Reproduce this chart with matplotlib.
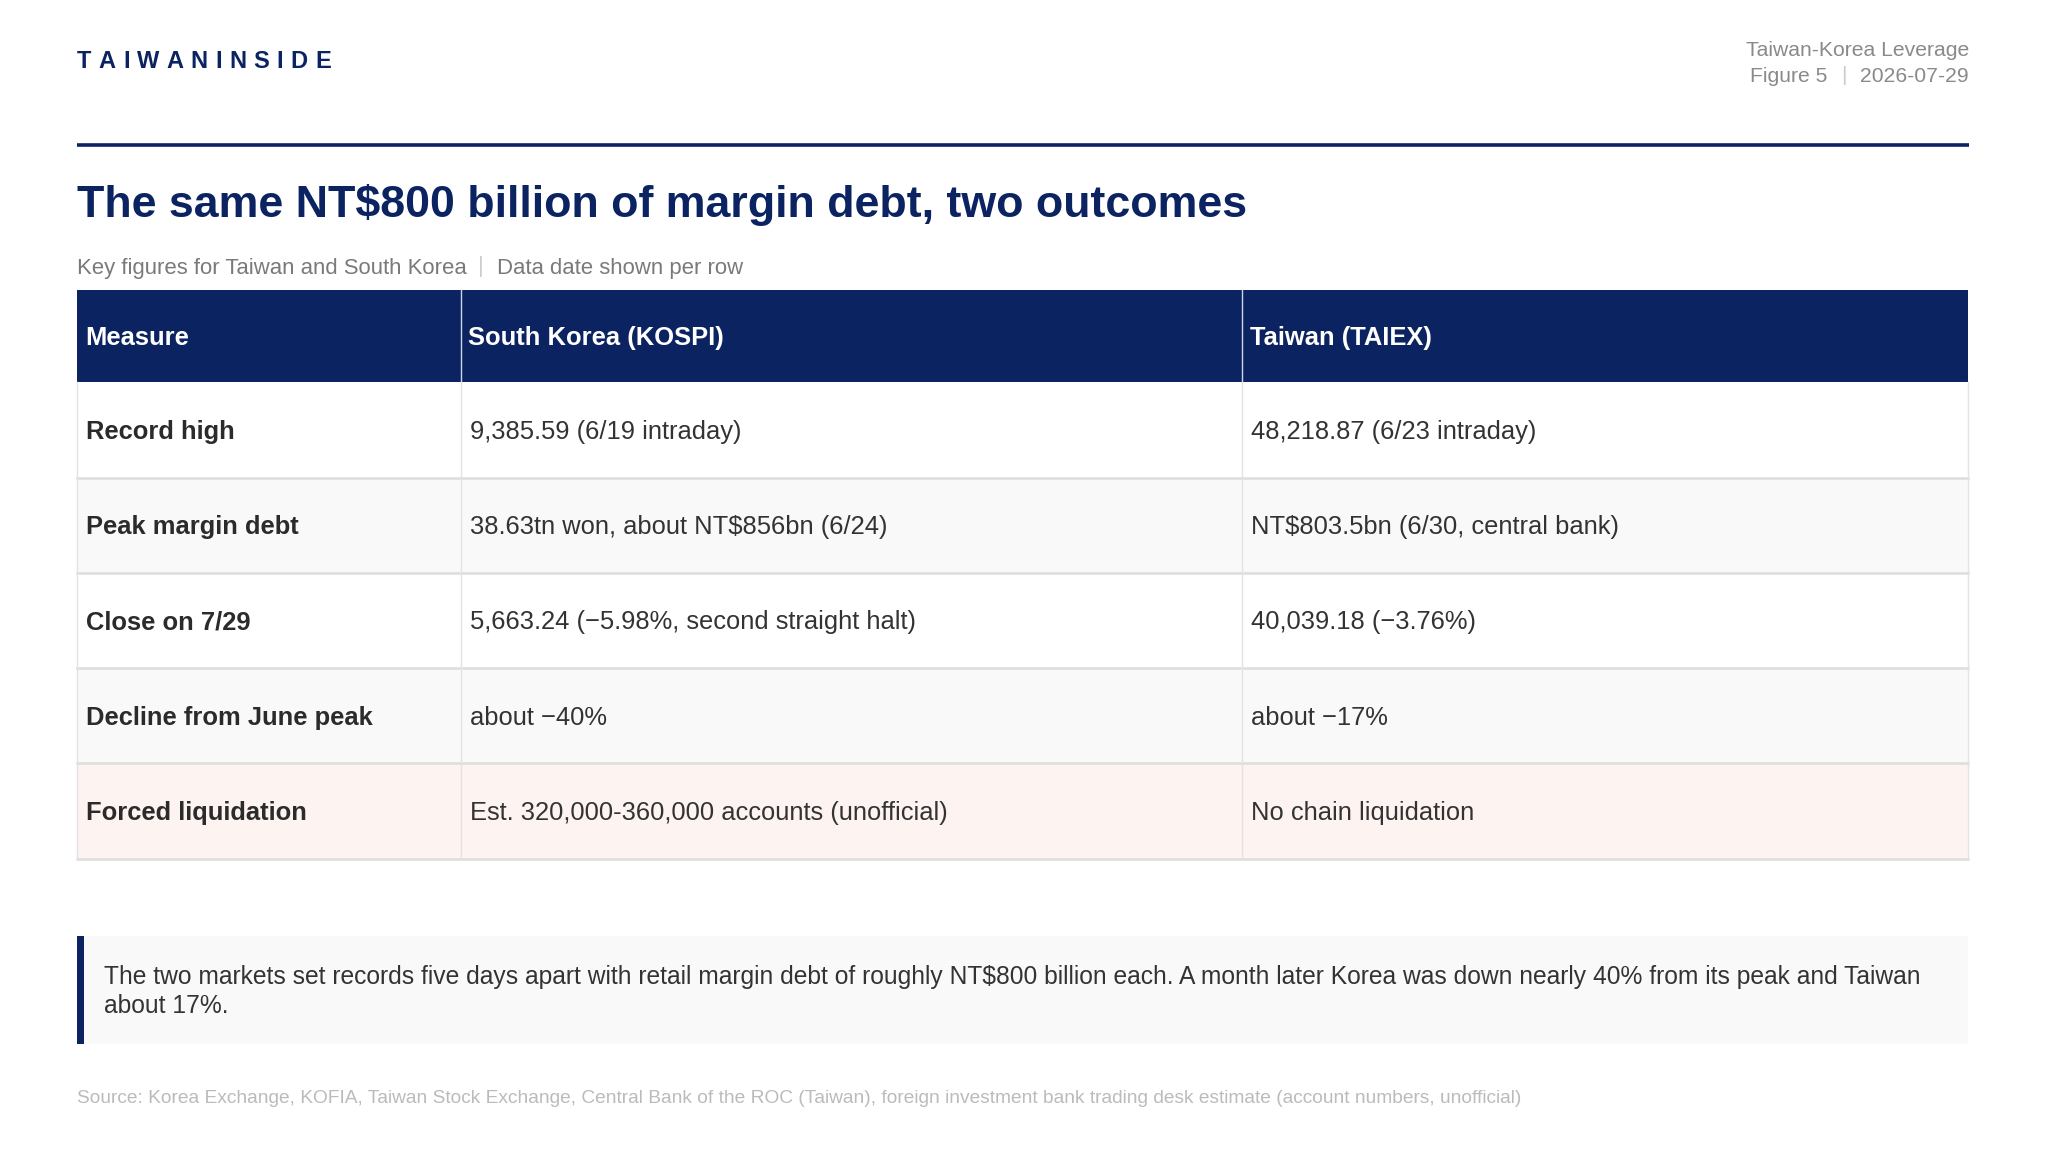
import matplotlib.pyplot as plt
from matplotlib.patches import Rectangle

# table content
columns = ['Measure', 'South Korea (KOSPI)', 'Taiwan (TAIEX)']
measures = ['Record high', 'Peak margin debt', 'Close on 7/29',
            'Decline from June peak', 'Forced liquidation']
korea = ['9,385.59 (6/19 intraday)', '38.63tn won, about NT$856bn (6/24)',
         '5,663.24 (\u22125.98%, second straight halt)', 'about \u221240%',
         'Est. 320,000-360,000 accounts (unofficial)']
taiwan = ['48,218.87 (6/23 intraday)', 'NT$803.5bn (6/30, central bank)',
          '40,039.18 (\u22123.76%)', 'about \u221217%', 'No chain liquidation']
row_bg = ['#ffffff', '#f9f9f9', '#ffffff', '#f9f9f9', '#fdf3f1']

title = 'The same NT$800 billion of margin debt, two outcomes'
subtitle = ['Key figures for Taiwan and South Korea', 'Data date shown per row']
note = ['The two markets set records five days apart with retail margin debt of roughly NT$800 billion each. '
        'A month later Korea was down nearly 40% from its peak and Taiwan',
        'about 17%.']
source = ('Source: Korea Exchange, KOFIA, Taiwan Stock Exchange, Central Bank of the ROC (Taiwan), '
          'foreign investment bank trading desk estimate (account numbers, unofficial)')

NAVY = '#0b2361'
W, H = 1568, 882.1

plt.rcParams['font.family'] = ['Liberation Sans', 'DejaVu Sans']

fig = plt.figure(figsize=(20.46, 11.51), dpi=100)
ax = fig.add_axes([0, 0, 1, 1])
ax.set_xlim(0, W)
ax.set_ylim(H, 0)
ax.axis('off')
r = fig.canvas.get_renderer()


def width(t):
    # text width in data units
    return t.get_window_extent(renderer=r).width * W / fig.bbox.width


# logo with letter spacing
x = 59
for ch in 'TAIWANINSIDE':
    t = ax.text(x, 47, ch, fontsize=17, fontweight='bold', color=NAVY, va='center')
    x += width(t) + 5.6

# top right
ax.text(1509, 38.5, 'Taiwan-Korea Leverage', fontsize=15.2, color='#8a8a8a', ha='right', va='center')
t = ax.text(1509, 58.5, '2026-07-29', fontsize=15.2, color='#8a8a8a', ha='right', va='center')
xs = 1509 - width(t) - 13
ax.text(xs, 57.5, '|', fontsize=15.2, color='#cccccc', ha='center', va='center')
ax.text(xs - 12, 58.5, 'Figure 5', fontsize=15.2, color='#8a8a8a', ha='right', va='center')

ax.plot([59, 1509], [111, 111], color=NAVY, lw=2.6, solid_capstyle='butt')

ax.text(59, 157, title, fontsize=32.2, fontweight='bold', color=NAVY, va='center')

t = ax.text(59, 205.5, subtitle[0], fontsize=15.9, color='#7a7a7a', va='center')
xs = 59 + width(t) + 11
ax.text(xs, 204.5, '|', fontsize=15.9, color='#cccccc', ha='center', va='center')
ax.text(xs + 12, 205.5, subtitle[1], fontsize=15.9, color='#7a7a7a', va='center')

# table
col_x = [59, 353, 952, 1508]
top, head_h, row_h = 222, 71, 73
fs = 18.4
ax.add_patch(Rectangle((col_x[0], top), col_x[-1] - col_x[0], head_h, color=NAVY, lw=0))
for j, c in enumerate(columns):
    ax.text(col_x[j] + 6, top + head_h / 2 + 1.5, c, fontsize=fs, fontweight='bold',
            color='white', va='center')
    if j > 0:
        ax.plot([col_x[j], col_x[j]], [top, top + head_h], color='#d0d6e6', lw=1)

for i in range(len(measures)):
    y0 = top + head_h + i * row_h
    ax.add_patch(Rectangle((col_x[0], y0), col_x[-1] - col_x[0], row_h, color=row_bg[i], lw=0))
    yc = y0 + row_h / 2 + 1.5
    ax.text(col_x[0] + 7, yc, measures[i], fontsize=fs, fontweight='bold', color='#2b2b2b', va='center')
    ax.text(col_x[1] + 7, yc, korea[i], fontsize=fs, color='#333333', va='center')
    ax.text(col_x[2] + 7, yc, taiwan[i], fontsize=fs, color='#333333', va='center')
    ax.plot([col_x[0], col_x[-1]], [y0 + row_h, y0 + row_h], color='#dddddd', lw=1.8)

bottom = top + head_h + len(measures) * row_h
for xv in col_x:
    ax.plot([xv, xv], [top + head_h, bottom], color='#e3e3e3', lw=1)

# callout
ax.add_patch(Rectangle((59, 717), 1449, 83, color='#f9f9f9', lw=0))
ax.add_patch(Rectangle((59, 717), 5, 83, color=NAVY, lw=0))
ax.text(80, 749, note[0], fontsize=17.75, color='#333333', va='center')
ax.text(80, 771, note[1], fontsize=17.75, color='#333333', va='center')

ax.text(59, 842, source, fontsize=13.8, color='#bbbbbb', va='center')

fig.savefig('out.png', dpi=100, facecolor='white')
